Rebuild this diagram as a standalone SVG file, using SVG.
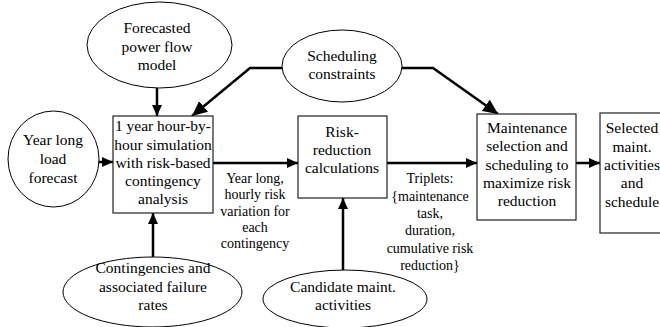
<svg xmlns="http://www.w3.org/2000/svg" width="660" height="327" viewBox="0 0 660 327">
<style>
text{fill:#000;text-anchor:middle}
.n{font-size:15.5px}
.l{font-size:14px}
.box{fill:#fff;stroke:#222;stroke-width:1.2}
.ell{fill:#fff;stroke:#000;stroke-width:1}
.c{fill:none;stroke:#000;stroke-width:2.5}
</style>
<defs>
<marker id="ah" markerUnits="userSpaceOnUse" markerWidth="12" markerHeight="10" refX="11" refY="5" orient="auto"><path d="M0,0 L11,5 L0,10 Z" fill="#000"/></marker>
<marker id="ahL" markerUnits="userSpaceOnUse" markerWidth="16" markerHeight="14" refX="15" refY="7" orient="auto"><path d="M0,0 L15,7 L0,14 Z" fill="#000"/></marker>
</defs>
<g id="connectors">
<line class="c" x1="157" y1="88" x2="157" y2="116" marker-end="url(#ah)"/>
<line class="c" x1="99" y1="162" x2="113" y2="162" marker-end="url(#ah)"/>
<line class="c" x1="153" y1="257" x2="153" y2="213" marker-end="url(#ah)"/>
<line class="c" x1="213" y1="163" x2="298" y2="163" marker-end="url(#ah)"/>
<line class="c" x1="343" y1="270" x2="343" y2="198" marker-end="url(#ah)"/>
<line class="c" x1="387" y1="163" x2="477" y2="163" marker-end="url(#ah)"/>
<line class="c" x1="576" y1="163" x2="600" y2="163" marker-end="url(#ah)"/>
<polyline class="c" points="282,68 250,68 192,116" marker-end="url(#ahL)"/>
<polyline class="c" points="402,68 433,68 498,114" marker-end="url(#ahL)"/>
</g>
<g font-family="'Liberation Serif', 'DejaVu Serif', 'Times New Roman', serif">
<g id="forecasted">
<ellipse class="ell" cx="159.5" cy="45" rx="72.5" ry="43"/>
<text class="n" x="157" y="33">Forecasted</text>
<text class="n" x="157" y="52">power flow</text>
<text class="n" x="157" y="70">model</text>
</g>
<g id="scheduling">
<ellipse class="ell" cx="342" cy="66" rx="60" ry="36"/>
<text class="n" x="342" y="61">Scheduling</text>
<text class="n" x="342" y="79">constraints</text>
</g>
<g id="loadforecast">
<ellipse class="ell" cx="53.5" cy="159" rx="45.5" ry="48"/>
<text class="n" x="53" y="145">Year long</text>
<text class="n" x="53" y="164">load</text>
<text class="n" x="53" y="183">forecast</text>
</g>
<g id="simulation">
<rect class="box" x="113" y="116" width="100" height="97"/>
<text class="n" x="163" y="131">1 year hour-by-</text>
<text class="n" x="163" y="150">hour simulation</text>
<text class="n" x="163" y="168">with risk-based</text>
<text class="n" x="163" y="186">contingency</text>
<text class="n" x="163" y="204">analysis</text>
</g>
<g id="risk">
<rect class="box" x="298" y="116" width="89" height="82"/>
<text class="n" x="342" y="137">Risk-</text>
<text class="n" x="342" y="155">reduction</text>
<text class="n" x="342" y="173">calculations</text>
</g>
<g id="maintenance">
<rect class="box" x="477" y="114" width="99" height="106"/>
<text class="n" x="527" y="133">Maintenance</text>
<text class="n" x="527" y="151">selection and</text>
<text class="n" x="527" y="170">scheduling to</text>
<text class="n" x="527" y="188">maximize risk</text>
<text class="n" x="527" y="206">reduction</text>
</g>
<g id="selected">
<rect class="box" x="600" y="113" width="70" height="120"/>
<text class="n" x="632" y="133">Selected</text>
<text class="n" x="632" y="152">maint.</text>
<text class="n" x="632" y="170">activities</text>
<text class="n" x="632" y="188">and</text>
<text class="n" x="632" y="207">schedule</text>
</g>
<g id="contingencies">
<ellipse class="ell" cx="152.5" cy="292" rx="89.5" ry="35"/>
<text class="n" x="153" y="273">Contingencies and</text>
<text class="n" x="153" y="292">associated failure</text>
<text class="n" x="153" y="310">rates</text>
</g>
<g id="candidate">
<ellipse class="ell" cx="345" cy="299" rx="82" ry="29"/>
<text class="n" x="343" y="292">Candidate maint.</text>
<text class="n" x="343" y="310">activities</text>
</g>
<g id="labels">
<text class="l" x="255" y="183">Year long,</text>
<text class="l" x="255" y="199">hourly risk</text>
<text class="l" x="255" y="216">variation for</text>
<text class="l" x="255" y="232">each</text>
<text class="l" x="255" y="248">contingency</text>
<text class="l" x="430" y="183">Triplets:</text>
<text class="l" x="430" y="201">{maintenance</text>
<text class="l" x="430" y="218">task,</text>
<text class="l" x="430" y="235">duration,</text>
<text class="l" x="430" y="253">cumulative risk</text>
<text class="l" x="430" y="270">reduction}</text>
</g>
</g>
</svg>
